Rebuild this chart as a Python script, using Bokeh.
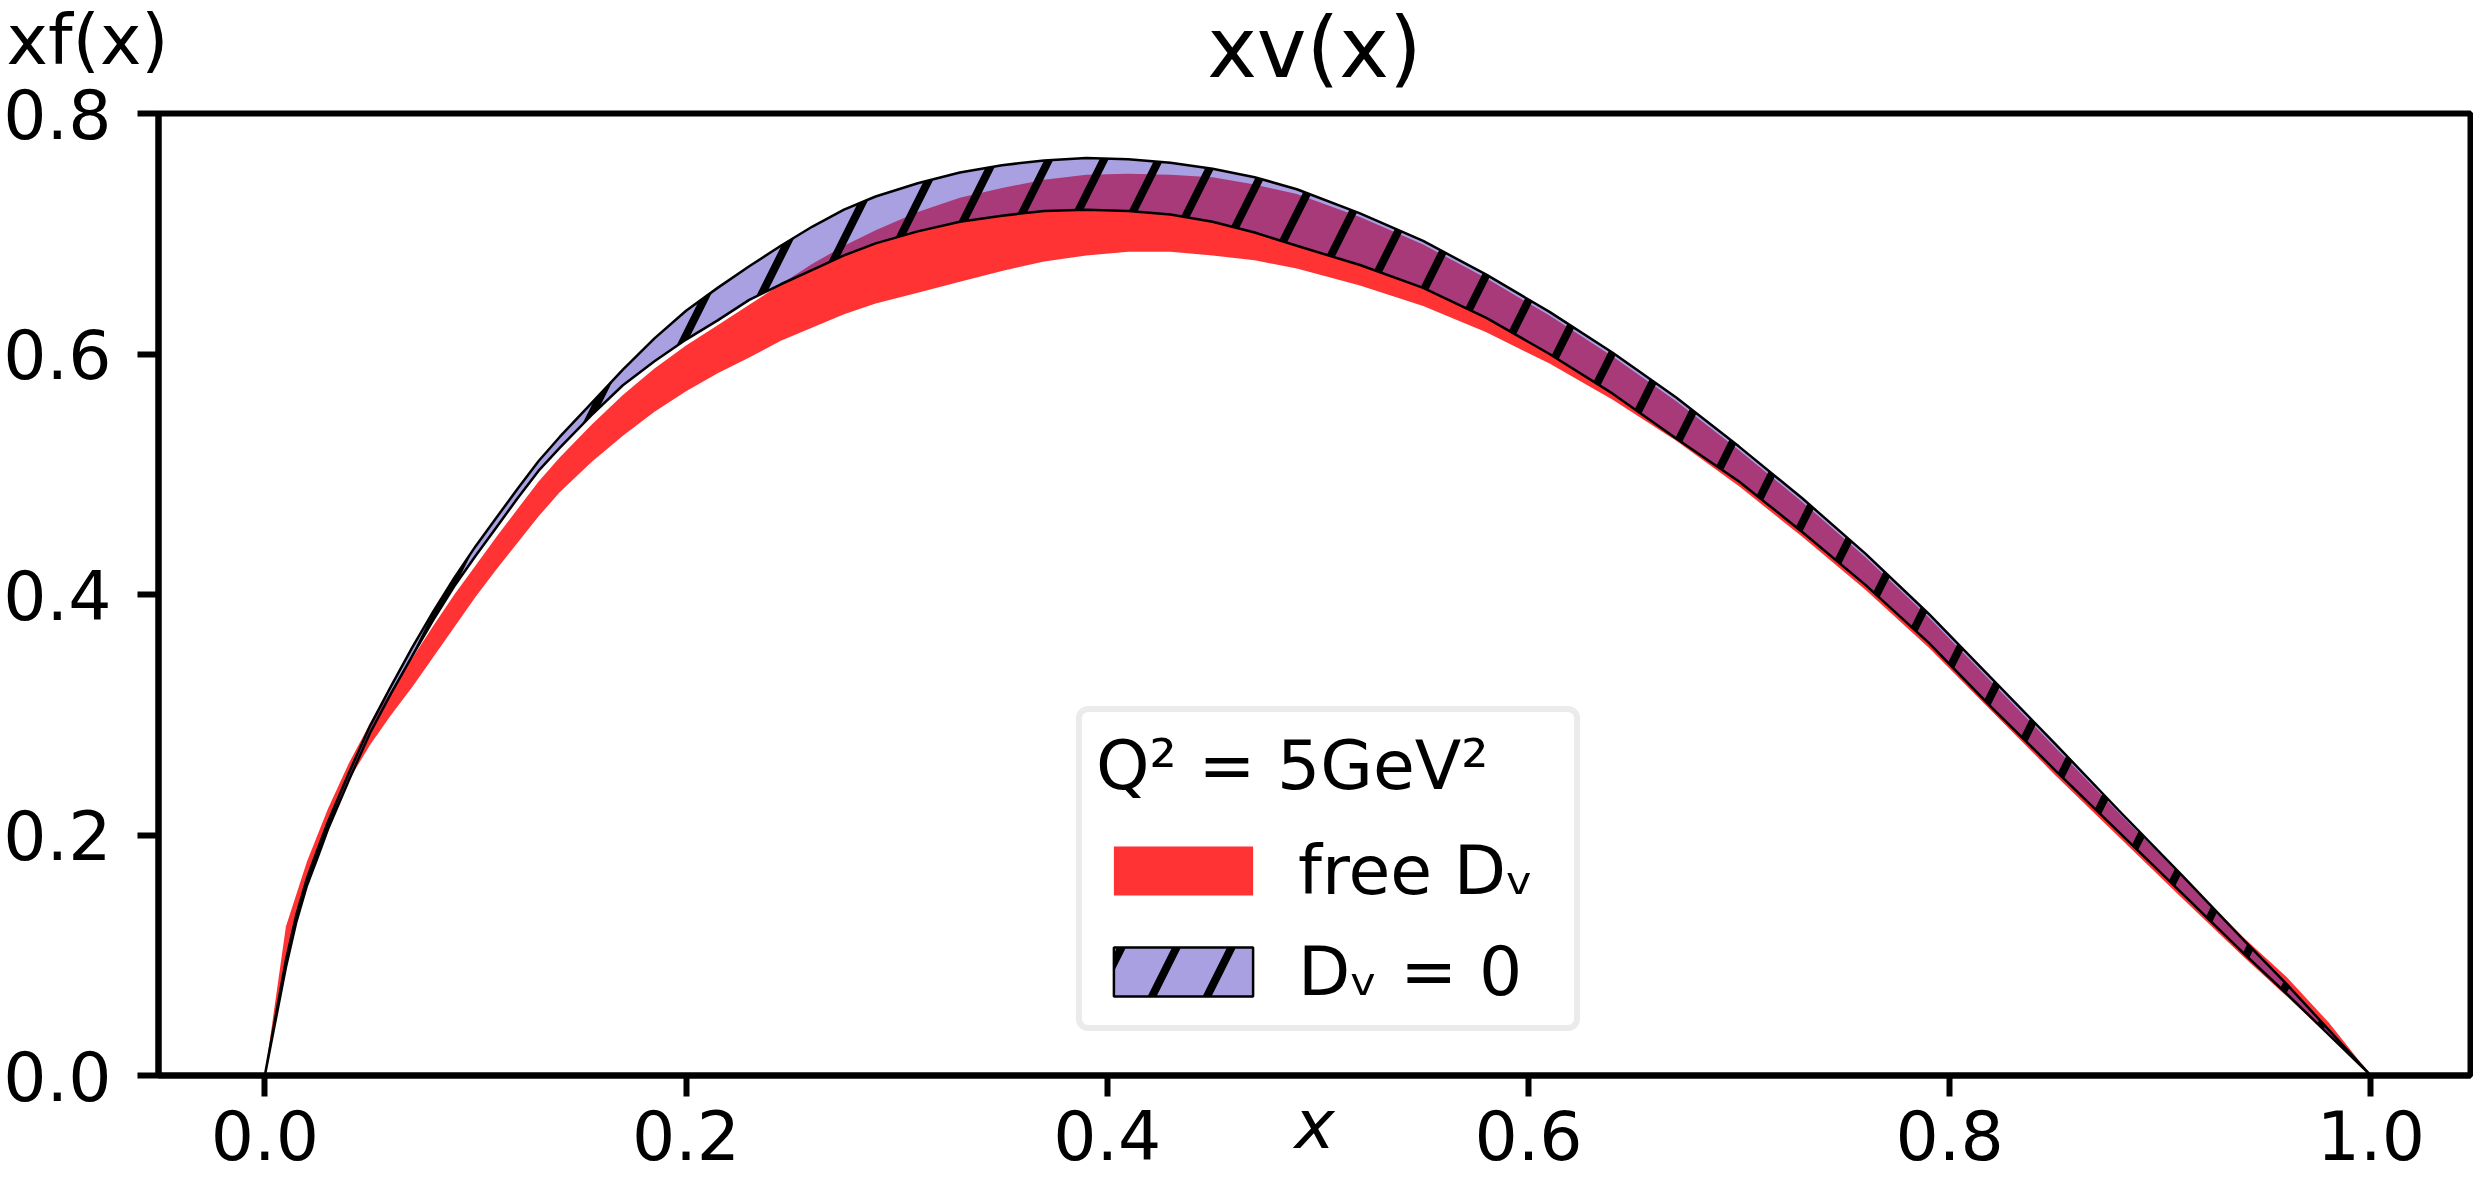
from bokeh.plotting import figure
from bokeh.models import Range1d, FixedTicker, Legend, LegendItem, Title
from bokeh.embed import file_html
from bokeh.resources import INLINE

# ---------------- data ----------------
x = [0.0, 0.01, 0.015, 0.02, 0.025, 0.03, 0.04, 0.05, 0.06, 0.07, 0.08, 0.09,
     0.10, 0.11, 0.12, 0.13, 0.14, 0.155, 0.17, 0.185, 0.20, 0.215, 0.23, 0.245,
     0.26, 0.275, 0.29, 0.31, 0.33, 0.35, 0.37, 0.39, 0.41, 0.43, 0.45, 0.47,
     0.49, 0.52, 0.55, 0.58, 0.61, 0.64, 0.67, 0.70, 0.73, 0.76, 0.79, 0.82,
     0.85, 0.88, 0.91, 0.94, 0.96, 0.98, 1.0]

# "free D_v" band
free_upper = [0.0, 0.124, 0.151, 0.178, 0.200, 0.222, 0.260, 0.293, 0.320, 0.347,
              0.374, 0.400, 0.424, 0.448, 0.471, 0.494, 0.514, 0.541, 0.566, 0.588,
              0.607, 0.624, 0.641, 0.658, 0.675, 0.690, 0.703, 0.718, 0.730, 0.738,
              0.745, 0.749, 0.750, 0.749, 0.747, 0.741, 0.733, 0.714, 0.691, 0.663,
              0.632, 0.598, 0.561, 0.520, 0.477, 0.431, 0.381, 0.327, 0.273, 0.219,
              0.166, 0.114, 0.082, 0.044, 0.0]
free_lower = [0.0, 0.090, 0.128, 0.157, 0.181, 0.204, 0.246, 0.275, 0.300, 0.323,
              0.348, 0.373, 0.398, 0.421, 0.443, 0.465, 0.485, 0.510, 0.532, 0.552,
              0.569, 0.584, 0.597, 0.611, 0.622, 0.633, 0.642, 0.651, 0.660, 0.669,
              0.677, 0.682, 0.685, 0.685, 0.682, 0.678, 0.671, 0.657, 0.640, 0.618,
              0.592, 0.562, 0.528, 0.490, 0.448, 0.404, 0.356, 0.303, 0.250, 0.199,
              0.148, 0.098, 0.066, 0.033, 0.0]

# "D_v = 0" band
d0_upper = [0.0, 0.096, 0.134, 0.164, 0.188, 0.211, 0.252, 0.291, 0.324, 0.356,
            0.386, 0.414, 0.440, 0.464, 0.488, 0.511, 0.531, 0.559, 0.587, 0.613,
            0.636, 0.655, 0.673, 0.690, 0.706, 0.720, 0.731, 0.742, 0.751, 0.757,
            0.761, 0.763, 0.762, 0.759, 0.754, 0.747, 0.737, 0.717, 0.694, 0.666,
            0.635, 0.601, 0.564, 0.523, 0.480, 0.434, 0.384, 0.330, 0.276, 0.221,
            0.167, 0.112, 0.076, 0.038, 0.0]
d0_lower = [0.0, 0.090, 0.128, 0.158, 0.181, 0.205, 0.246, 0.285, 0.318, 0.349,
            0.379, 0.407, 0.432, 0.456, 0.480, 0.503, 0.522, 0.549, 0.574, 0.594,
            0.612, 0.628, 0.645, 0.658, 0.670, 0.682, 0.692, 0.702, 0.710, 0.715,
            0.719, 0.720, 0.719, 0.716, 0.710, 0.701, 0.690, 0.674, 0.655, 0.630,
            0.600, 0.567, 0.530, 0.494, 0.452, 0.408, 0.360, 0.306, 0.254, 0.203,
            0.152, 0.101, 0.068, 0.034, 0.0]

xticks = [0.0, 0.2, 0.4, 0.6, 0.8, 1.0]
xtick_labels = ["0.0", "0.2", "0.4", "0.6", "0.8", "1.0"]
yticks = [0.0, 0.2, 0.4, 0.6, 0.8]
ytick_labels = ["0.0", "0.2", "0.4", "0.6", "0.8"]

title_text = "xv(x)"
ylabel_text = "xf(x)"
xlabel_text = "x"
legend_title = "Q² = 5GeV²"
label_free = "free Dᵥ"
label_d0 = "Dᵥ = 0"

FONT = "DejaVu Sans"
RED = "#ff3333"
BLUE = "#5141c1"

# ---------------- figure ----------------
p = figure(width=2473, height=1177, output_backend="svg", toolbar_location=None,
           title=None,
           x_range=Range1d(-0.0505, 1.0473), y_range=Range1d(0.0, 0.8),
           min_border_left=152, min_border_right=3, min_border_top=113,
           min_border_bottom=102)
p.background_fill_color = "white"
p.border_fill_color = "white"
p.xgrid.visible = False
p.ygrid.visible = False
p.outline_line_color = "black"
p.outline_line_width = 6
p.outline_line_alpha = 1.0

# title and y-label in the top panel (zero-height panels, text lifted by standoff)
t_main = Title(text=title_text, align="center", vertical_align="top",
               text_font=FONT, text_font_size="84px", text_font_style="normal",
               text_color="black", standoff=-230)
p.add_layout(t_main, "above")
t_ylab = Title(text=ylabel_text, align="left", vertical_align="top",
               offset=-152, text_font=FONT, text_font_size="70px",
               text_font_style="normal", text_color="black", standoff=-230)
p.add_layout(t_ylab, "above")

for ax, ticks, labels in ((p.xaxis[0], xticks, xtick_labels), (p.yaxis[0], yticks, ytick_labels)):
    ax.ticker = FixedTicker(ticks=ticks)
    ax.major_label_overrides = {t: l for t, l in zip(ticks, labels)}
    ax.axis_line_color = "black"
    ax.axis_line_width = 6
    ax.major_tick_line_color = "black"
    ax.major_tick_line_width = 6
    ax.major_tick_out = 21
    ax.major_tick_in = 0
    ax.minor_tick_line_color = None
    ax.major_label_text_font = FONT
    ax.major_label_text_font_size = "68px"
    ax.major_label_text_color = "black"
p.xaxis.major_label_standoff = 13
p.yaxis.major_label_standoff = 26

# x-axis label as a zero-height bottom title
t_xlab = Title(text=xlabel_text, align="center", vertical_align="top",
               text_font=FONT, text_font_size="68px", text_font_style="italic",
               text_color="black", standoff=-156)
p.add_layout(t_xlab, "below")

# ---------------- bands ----------------
r_free = p.varea(x=x, y1=free_lower, y2=free_upper, fill_color=RED, fill_alpha=1.0)

band_x = x + x[::-1]
band_y = d0_upper + d0_lower[::-1]
r_d0 = p.patch(band_x, band_y, fill_color=BLUE, fill_alpha=0.5,
               line_color="black", line_width=2.5,
               hatch_pattern="/", hatch_color="black", hatch_alpha=1.0,
               hatch_weight=8, hatch_scale=110)

# ---------------- legend ----------------
legend = Legend(items=[LegendItem(label=label_free, renderers=[r_free]),
                       LegendItem(label=label_d0, renderers=[r_d0])],
                title=legend_title, location=(918, 44))
legend.title_text_font = FONT
legend.title_text_font_size = "68px"
legend.title_text_font_style = "normal"
legend.title_text_color = "black"
legend.title_standoff = 26
legend.label_text_font = FONT
legend.label_text_font_size = "68px"
legend.label_text_color = "black"
legend.glyph_width = 174
legend.glyph_height = 61
legend.label_standoff = 28
legend.label_width = 262
legend.spacing = 22
legend.padding = 14
legend.margin = 0
legend.border_line_color = "#d8d8d8"
legend.border_line_width = 6
legend.background_fill_color = "white"
legend.background_fill_alpha = 1.0
if "border_radius" in Legend.properties():
    legend.border_radius = 12
p.add_layout(legend)

open("out.html", "w").write(file_html(p, INLINE))
